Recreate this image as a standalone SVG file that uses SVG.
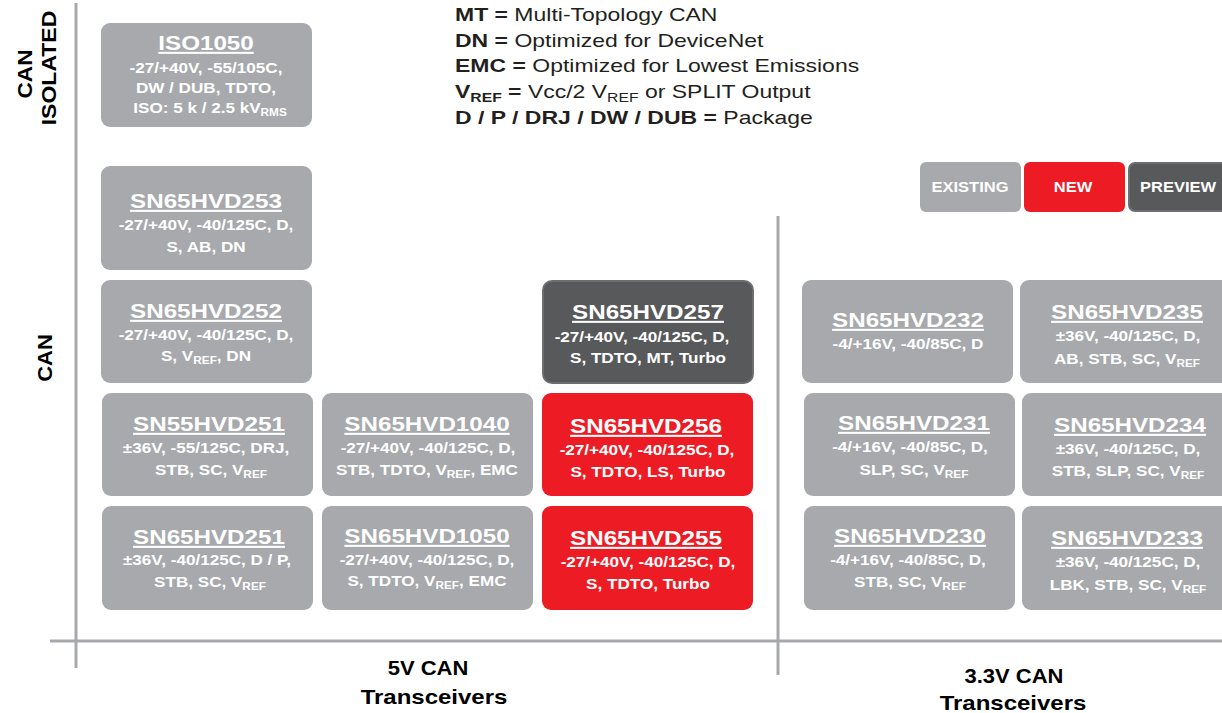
<svg xmlns="http://www.w3.org/2000/svg" width="1222" height="713" viewBox="0 0 1222 713">
<style>
.bg{fill:#a7a9ac}
.br{fill:#ed1c24}
.bd{fill:#58595b;stroke:#6d6e71;stroke-width:2}
.ax{stroke:#a7a9ac;stroke-width:3;fill:none}
.t{font-family:"Liberation Sans",Arial,Helvetica,sans-serif;font-weight:bold;fill:#fff;text-anchor:middle}
.ttl{font-size:20.5px;text-decoration:underline}
.det{font-size:14.5px}
.sub{font-size:10px}
.lg{font-family:"Liberation Sans",Arial,Helvetica,sans-serif;font-size:19px;fill:#231f20}
.lgb{font-weight:bold}
.lbl{font-family:"Liberation Sans",Arial,Helvetica,sans-serif;font-weight:bold;fill:#000;text-anchor:middle;font-size:20px}
.key{font-size:14px}
</style>
<g id="axes">
<line class="ax" x1="76" y1="3" x2="76" y2="668"/>
<line class="ax" x1="50" y1="641" x2="1222" y2="641"/>
<line class="ax" x1="778" y1="216" x2="778" y2="675"/>
</g>
<g id="axis-labels">
<text class="lbl" transform="translate(32,74) rotate(-90) scale(1.13,1)">CAN</text>
<text class="lbl" transform="translate(55.5,68) rotate(-90) scale(1.15,1)">ISOLATED</text>
<text class="lbl" transform="translate(52,358) rotate(-90) scale(1.1,1)">CAN</text>
<text class="lbl" transform="translate(428,675) scale(1.1,1)">5V CAN</text>
<text class="lbl" transform="translate(434,704) scale(1.2,1)">Transceivers</text>
<text class="lbl" transform="translate(1014,683) scale(1.1,1)">3.3V CAN</text>
<text class="lbl" transform="translate(1013,710) scale(1.2,1)">Transceivers</text>
</g>
<g id="legend-text">
<text class="lg" transform="translate(455,21) scale(1.21,1)"><tspan class="lgb">MT =</tspan> Multi-Topology CAN</text>
<text class="lg" transform="translate(455,47) scale(1.21,1)"><tspan class="lgb">DN =</tspan> Optimized for DeviceNet</text>
<text class="lg" transform="translate(455,72) scale(1.21,1)"><tspan class="lgb">EMC =</tspan> Optimized for Lowest Emissions</text>
<text class="lg" transform="translate(455,98) scale(1.21,1)"><tspan class="lgb">V</tspan><tspan class="lgb" font-size="13px" dy="4">REF</tspan><tspan class="lgb" dy="-4"> =</tspan> Vcc/2 V<tspan font-size="13px" dy="4">REF</tspan><tspan dy="-4"> or SPLIT Output</tspan></text>
<text class="lg" transform="translate(455,124) scale(1.21,1)"><tspan class="lgb">D / P / DRJ / DW / DUB =</tspan> Package</text>
</g>
<g id="key-existing">
<rect class="bg" x="920" y="162" width="101" height="50" rx="6"/>
<text class="t key" transform="translate(970,192) scale(1.18,1)">EXISTING</text>
</g>
<g id="key-new">
<rect class="br" x="1024" y="162" width="101" height="50" rx="6"/>
<text class="t key" transform="translate(1073,192) scale(1.18,1)">NEW</text>
</g>
<g id="key-preview">
<rect class="bd" x="1129" y="163" width="100" height="48" rx="6"/>
<text class="t key" transform="translate(1178,192) scale(1.18,1)">PREVIEW</text>
</g>

<g id="ISO1050">
<rect class="bg" x="101" y="23" width="211" height="104" rx="9"/>
<text class="t ttl" transform="translate(206,50) scale(1.18,1)">ISO1050</text>
<text class="t det" transform="translate(206,73) scale(1.18,1)">-27/+40V, -55/105C,</text>
<text class="t det" transform="translate(206,93) scale(1.18,1)">DW / DUB, TDTO,</text>
<text class="t det" transform="translate(210,113) scale(1.18,1)">ISO: 5 k / 2.5 kV<tspan class="sub" dy="3">RMS</tspan></text>
</g>
<g id="SN65HVD253">
<rect class="bg" x="101" y="166" width="211" height="104" rx="9"/>
<text class="t ttl" transform="translate(206,208) scale(1.18,1)">SN65HVD253</text>
<text class="t det" transform="translate(206,230) scale(1.18,1)">-27/+40V, -40/125C, D,</text>
<text class="t det" transform="translate(206,252) scale(1.18,1)">S, AB, DN</text>
</g>
<g id="SN65HVD252">
<rect class="bg" x="101" y="280" width="211" height="103" rx="9"/>
<text class="t ttl" transform="translate(206,318) scale(1.18,1)">SN65HVD252</text>
<text class="t det" transform="translate(206,340) scale(1.18,1)">-27/+40V, -40/125C, D,</text>
<text class="t det" transform="translate(206,361) scale(1.18,1)">S, V<tspan class="sub" dy="3">REF</tspan><tspan dy="-3">, DN</tspan></text>
</g>
<g id="SN65HVD257">
<rect class="bd" x="543" y="281" width="210" height="102" rx="9"/>
<text class="t ttl" transform="translate(648,319) scale(1.18,1)">SN65HVD257</text>
<text class="t det" transform="translate(642,342) scale(1.18,1)">-27/+40V, -40/125C, D,</text>
<text class="t det" transform="translate(648,363) scale(1.18,1)">S, TDTO, MT, Turbo</text>
</g>
<g id="SN55HVD251">
<rect class="bg" x="102" y="393" width="211" height="103" rx="9"/>
<text class="t ttl" transform="translate(209,431) scale(1.18,1)">SN55HVD251</text>
<text class="t det" transform="translate(206,453) scale(1.18,1)">±36V, -55/125C, DRJ,</text>
<text class="t det" transform="translate(211,475) scale(1.18,1)">STB, SC, V<tspan class="sub" dy="3">REF</tspan></text>
</g>
<g id="SN65HVD1040">
<rect class="bg" x="322" y="393" width="211" height="103" rx="9"/>
<text class="t ttl" transform="translate(427,431) scale(1.18,1)">SN65HVD1040</text>
<text class="t det" transform="translate(428,453) scale(1.18,1)">-27/+40V, -40/125C, D,</text>
<text class="t det" transform="translate(427,475) scale(1.18,1)">STB, TDTO, V<tspan class="sub" dy="3">REF</tspan><tspan dy="-3">, EMC</tspan></text>
</g>
<g id="SN65HVD256">
<rect class="br" x="542" y="393" width="211" height="103" rx="9"/>
<text class="t ttl" transform="translate(646,433) scale(1.18,1)">SN65HVD256</text>
<text class="t det" transform="translate(647,455) scale(1.18,1)">-27/+40V, -40/125C, D,</text>
<text class="t det" transform="translate(648,477) scale(1.18,1)">S, TDTO, LS, Turbo</text>
</g>
<g id="SN65HVD251">
<rect class="bg" x="102" y="506" width="211" height="104" rx="9"/>
<text class="t ttl" transform="translate(209,544) scale(1.18,1)">SN65HVD251</text>
<text class="t det" transform="translate(207,565) scale(1.18,1)">±36V, -40/125C, D / P,</text>
<text class="t det" transform="translate(210,587) scale(1.18,1)">STB, SC, V<tspan class="sub" dy="3">REF</tspan></text>
</g>
<g id="SN65HVD1050">
<rect class="bg" x="322" y="506" width="211" height="104" rx="9"/>
<text class="t ttl" transform="translate(427,543) scale(1.18,1)">SN65HVD1050</text>
<text class="t det" transform="translate(427,565) scale(1.18,1)">-27/+40V, -40/125C, D,</text>
<text class="t det" transform="translate(427,586) scale(1.18,1)">S, TDTO, V<tspan class="sub" dy="3">REF</tspan><tspan dy="-3">, EMC</tspan></text>
</g>
<g id="SN65HVD255">
<rect class="br" x="542" y="506" width="211" height="104" rx="9"/>
<text class="t ttl" transform="translate(646,545) scale(1.18,1)">SN65HVD255</text>
<text class="t det" transform="translate(648,567) scale(1.18,1)">-27/+40V, -40/125C, D,</text>
<text class="t det" transform="translate(648,589) scale(1.18,1)">S, TDTO, Turbo</text>
</g>
<g id="SN65HVD232">
<rect class="bg" x="802" y="280" width="211" height="103" rx="9"/>
<text class="t ttl" transform="translate(908,327) scale(1.18,1)">SN65HVD232</text>
<text class="t det" transform="translate(908,349) scale(1.18,1)">-4/+16V, -40/85C, D</text>
</g>
<g id="SN65HVD235">
<rect class="bg" x="1020" y="280" width="211" height="103" rx="9"/>
<text class="t ttl" transform="translate(1127,319) scale(1.18,1)">SN65HVD235</text>
<text class="t det" transform="translate(1128,341) scale(1.18,1)">±36V, -40/125C, D,</text>
<text class="t det" transform="translate(1127,364) scale(1.18,1)">AB, STB, SC, V<tspan class="sub" dy="3">REF</tspan></text>
</g>
<g id="SN65HVD231">
<rect class="bg" x="804" y="393" width="211" height="103" rx="9"/>
<text class="t ttl" transform="translate(914,430) scale(1.18,1)">SN65HVD231</text>
<text class="t det" transform="translate(910,452) scale(1.18,1)">-4/+16V, -40/85C, D,</text>
<text class="t det" transform="translate(914,475) scale(1.18,1)">SLP, SC, V<tspan class="sub" dy="3">REF</tspan></text>
</g>
<g id="SN65HVD234">
<rect class="bg" x="1022" y="393" width="211" height="103" rx="9"/>
<text class="t ttl" transform="translate(1130,432) scale(1.18,1)">SN65HVD234</text>
<text class="t det" transform="translate(1128,454) scale(1.18,1)">±36V, -40/125C, D,</text>
<text class="t det" transform="translate(1128,476) scale(1.18,1)">STB, SLP, SC, V<tspan class="sub" dy="3">REF</tspan></text>
</g>
<g id="SN65HVD230">
<rect class="bg" x="804" y="506" width="211" height="104" rx="9"/>
<text class="t ttl" transform="translate(910,543) scale(1.18,1)">SN65HVD230</text>
<text class="t det" transform="translate(908,565) scale(1.18,1)">-4/+16V, -40/85C, D,</text>
<text class="t det" transform="translate(910,587) scale(1.18,1)">STB, SC, V<tspan class="sub" dy="3">REF</tspan></text>
</g>
<g id="SN65HVD233">
<rect class="bg" x="1022" y="506" width="211" height="104" rx="9"/>
<text class="t ttl" transform="translate(1127,545) scale(1.18,1)">SN65HVD233</text>
<text class="t det" transform="translate(1128,567) scale(1.18,1)">±36V, -40/125C, D,</text>
<text class="t det" transform="translate(1128,590) scale(1.18,1)">LBK, STB, SC, V<tspan class="sub" dy="3">REF</tspan></text>
</g>
</svg>
